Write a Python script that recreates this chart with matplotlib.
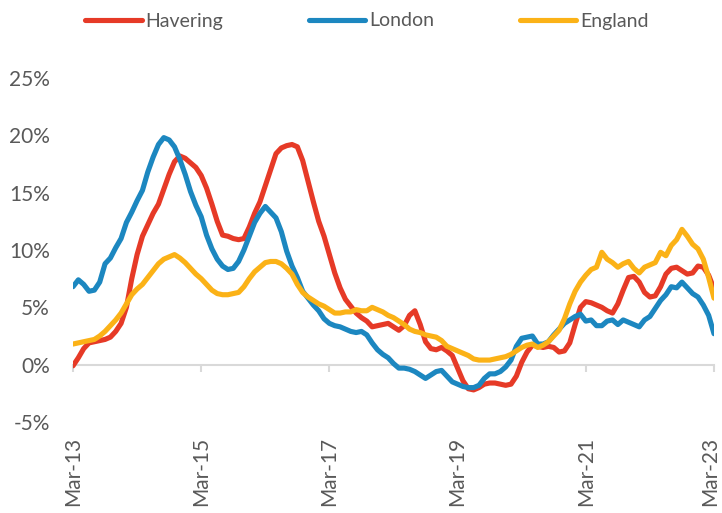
import matplotlib
matplotlib.use("Agg")
import matplotlib.pyplot as plt
import matplotlib.transforms as mtransforms
import numpy as np
import pandas as pd

plt.rcParams['font.family'] = ['Lato', 'DejaVu Sans']

months = pd.date_range("2013-03-01", "2023-03-01", freq="MS")
tick_labels = ["Mar-13", "Mar-15", "Mar-17", "Mar-19", "Mar-21", "Mar-23"]

havering = [
    -0.1, 0.6, 1.4, 1.9, 2.0, 2.1, 2.2, 2.4, 2.9, 3.6,
    5.0, 7.5, 9.6, 11.2, 12.2, 13.2, 14.0, 15.3, 16.6, 17.7,
    18.2, 18.0, 17.6, 17.2, 16.5, 15.4, 14.0, 12.5, 11.3, 11.2,
    11.0, 10.9, 11.0, 12.0, 13.2, 14.2, 15.6, 17.0, 18.4, 18.9,
    19.1, 19.2, 19.0, 17.8, 16.0, 14.2, 12.5, 11.2, 9.6, 8.0,
    6.7, 5.7, 5.1, 4.5, 4.1, 3.8, 3.3, 3.4, 3.5, 3.6,
    3.3, 3.0, 3.4, 4.3, 4.7, 3.5, 2.0, 1.4, 1.3, 1.5,
    1.2, 0.8, -0.3, -1.4, -2.1, -2.2, -2.0, -1.7, -1.6, -1.6,
    -1.7, -1.8, -1.7, -1.0, 0.2, 1.1, 1.7, 1.6, 1.5, 1.6,
    1.5, 1.1, 1.2, 1.9, 3.5, 5.0, 5.5, 5.4, 5.2, 5.0,
    4.7, 4.5, 5.3, 6.5, 7.6, 7.7, 7.2, 6.3, 5.9, 6.0,
    6.8, 7.9, 8.4, 8.5, 8.2, 7.9, 8.0, 8.6, 8.5, 7.8,
    6.6,
]

london = [
    6.8, 7.4, 7.0, 6.4, 6.5, 7.2, 8.8, 9.3, 10.2, 11.0,
    12.4, 13.3, 14.3, 15.2, 16.8, 18.1, 19.2, 19.8, 19.6, 19.0,
    17.9, 16.6, 15.1, 13.9, 12.9, 11.3, 10.1, 9.2, 8.6, 8.3,
    8.4, 9.0, 10.0, 11.2, 12.4, 13.2, 13.8, 13.3, 12.8, 11.6,
    9.9, 8.6, 7.6, 6.4, 5.8, 5.2, 4.7, 4.0, 3.6, 3.4,
    3.3, 3.1, 2.9, 2.8, 2.9, 2.6, 1.9, 1.3, 0.9, 0.6,
    0.1, -0.3, -0.3, -0.4, -0.6, -0.9, -1.2, -0.9, -0.6, -0.5,
    -1.0, -1.5, -1.7, -1.9, -2.0, -2.0, -1.8, -1.2, -0.8, -0.8,
    -0.6, -0.2, 0.4, 1.6, 2.3, 2.4, 2.5, 1.8, 1.8, 2.0,
    2.6, 3.1, 3.6, 3.9, 4.2, 4.4, 3.8, 3.9, 3.4, 3.4,
    3.8, 3.9, 3.5, 3.9, 3.7, 3.5, 3.3, 3.9, 4.2, 4.9,
    5.6, 6.1, 6.8, 6.7, 7.2, 6.7, 6.2, 5.9, 5.2, 4.3,
    2.7,
]

england = [
    1.8, 1.9, 2.0, 2.1, 2.2, 2.5, 2.9, 3.4, 3.9, 4.5,
    5.3, 6.1, 6.6, 7.0, 7.6, 8.2, 8.8, 9.2, 9.4, 9.6,
    9.3, 8.9, 8.4, 7.9, 7.5, 7.0, 6.5, 6.2, 6.1, 6.1,
    6.2, 6.3, 6.8, 7.5, 8.1, 8.5, 8.9, 9.0, 9.0, 8.8,
    8.4, 7.9, 7.0, 6.3, 5.9, 5.6, 5.3, 5.1, 4.8, 4.5,
    4.5, 4.6, 4.6, 4.8, 4.7, 4.7, 5.0, 4.8, 4.6, 4.3,
    4.1, 3.8, 3.5, 3.1, 2.9, 2.8, 2.6, 2.5, 2.4, 2.1,
    1.6, 1.4, 1.2, 1.0, 0.8, 0.5, 0.4, 0.4, 0.4, 0.5,
    0.6, 0.7, 0.9, 1.2, 1.5, 1.7, 1.8, 1.5, 1.7, 2.0,
    2.5, 3.0, 4.0, 5.3, 6.4, 7.2, 7.8, 8.3, 8.5, 9.8,
    9.2, 8.9, 8.5, 8.8, 9.0, 8.4, 8.0, 8.5, 8.7, 8.9,
    9.8, 9.5, 10.4, 10.9, 11.8, 11.2, 10.5, 10.1, 9.2, 7.6,
    5.8,
]

series = [("Havering", havering, "#E63A27"),
          ("London", london, "#1C87C0"),
          ("England", england, "#FBB217")]

text_color = "#595959"
axis_color = "#D9D9D9"

fig = plt.figure(figsize=(7.22, 5.13), dpi=100)
ax = fig.add_axes([73 / 722, 91 / 513, 641 / 722, 344 / 513])

x = np.arange(len(months))
for name, vals, col in series:
    ax.plot(x, np.array(vals) / 100.0, color=col, lw=3.7, label=name,
            solid_joinstyle="round", solid_capstyle="round", zorder=3)

ax.set_xlim(0, len(months) - 1)
ax.set_ylim(-0.05, 0.25)

# y axis
yt = np.arange(-0.05, 0.2501, 0.05)
ax.set_yticks(yt)
ax.set_yticklabels([f"{int(round(v * 100))}%" for v in yt])
ax.tick_params(axis="y", length=0, pad=23 * 0.72, labelsize=15, labelcolor=text_color)

for s in ["top", "right", "left"]:
    ax.spines[s].set_visible(False)
ax.spines["bottom"].set_position(("data", 0))
ax.spines["bottom"].set_color(axis_color)
ax.spines["bottom"].set_linewidth(1.5)
ax.spines["bottom"].set_zorder(1)

tick_pos = np.arange(0, len(months), 24)
ax.set_xticks(tick_pos)
ax.tick_params(axis="x", direction="out", length=5, width=1.5, color=axis_color,
               labelbottom=False)

sec = ax.secondary_xaxis("bottom")
sec.set_xticks(tick_pos)
sec.set_xticklabels(tick_labels, rotation=90)
sec.tick_params(axis="x", length=0, pad=11, labelsize=15, labelcolor=text_color)
sec.spines["bottom"].set_visible(False)

# keep the last label inside the canvas
last = sec.get_xticklabels()[-1]
last.set_transform(last.get_transform() +
                   mtransforms.ScaledTranslation(-4 / 100, 0, fig.dpi_scale_trans))

handles, labels = ax.get_legend_handles_labels()
leg = fig.legend(handles, labels, loc="center", bbox_to_anchor=(0.508, 1 - 21 / 513),
                 ncol=3, frameon=False, fontsize=14, handlelength=2.9,
                 handletextpad=0.2, columnspacing=4.4)
for t in leg.get_texts():
    t.set_color(text_color)

fig.savefig("out.png", dpi=100)
